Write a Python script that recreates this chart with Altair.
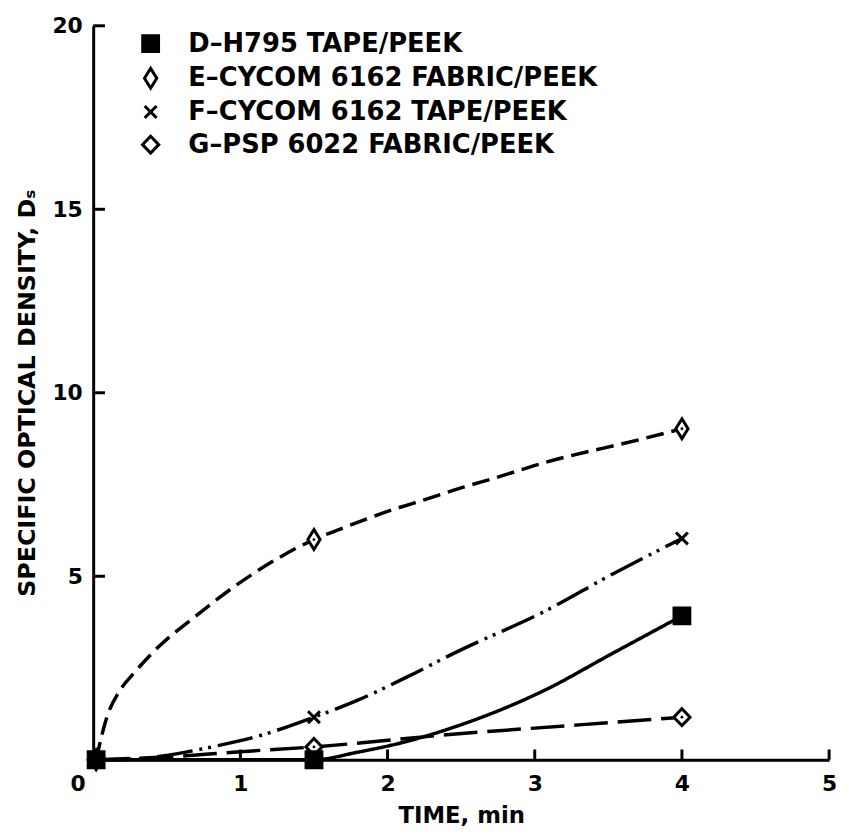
import altair as alt
import pandas as pd

# ---- data ----
series = ["D–H795 TAPE/PEEK", "E–CYCOM 6162 FABRIC/PEEK",
          "F–CYCOM 6162 TAPE/PEEK", "G–PSP 6022 FABRIC/PEEK"]

# measured points (markers)
d_time = [0.02, 1.5, 4.0]
d_ds = [0.0, 0.0, 3.92]
e_time = [0.02, 1.5, 4.0]
e_ds = [0.0, 6.0, 9.02]
f_time = [0.02, 1.5, 4.0]
f_ds = [0.0, 1.16, 6.03]
g_time = [0.02, 1.5, 4.0]
g_ds = [0.0, 0.35, 1.16]

# faired curves
d_curve_t = [0.02, 1.5, 1.79, 2.15, 2.4, 3.07, 3.52, 4.0]
d_curve_v = [0.0, 0.0, 0.2, 0.52, 0.82, 1.9, 2.88, 3.92]
e_curve_t = [0.02, 0.093, 0.18, 0.27, 0.45, 0.68, 0.97, 1.26, 1.5, 1.72, 2.01, 2.28, 2.51, 2.73, 3.07, 3.74, 4.0]
e_curve_v = [0.0, 1.16, 1.88, 2.33, 3.1, 3.86, 4.75, 5.5, 6.0, 6.35, 6.78, 7.12, 7.42, 7.68, 8.1, 8.75, 9.02]
f_curve_t = [0.02, 0.3, 0.5, 0.83, 1.1, 1.5, 1.79, 2.13, 2.46, 3.07, 3.52, 4.0]
f_curve_v = [0.0, 0.02, 0.12, 0.37, 0.62, 1.16, 1.61, 2.25, 2.92, 4.05, 5.04, 6.03]
g_curve_t = [0.02, 0.6, 1.0, 1.5, 2.4, 3.3, 4.0]
g_curve_v = [0.0, 0.1, 0.22, 0.35, 0.68, 0.95, 1.16]

x_ticks = [0, 1, 2, 3, 4, 5]
y_ticks = [5, 10, 15, 20]
x_inner_ticks = [1, 2, 3, 4, 5]
y_inner_ticks = [5, 10, 15, 20]

FONT = "DejaVu Sans"

# ---- tables ----
curve_t = [d_curve_t, e_curve_t, f_curve_t, g_curve_t]
curve_v = [d_curve_v, e_curve_v, f_curve_v, g_curve_v]
dashes = [[1, 0], [18, 8], [36, 7, 3, 6, 3, 7], [34, 10]]

pts = []
# D last so its square sits on top at the origin
for s, ts, vs in zip([series[3], series[2], series[1], series[0]],
                     [g_time, f_time, e_time, d_time],
                     [g_ds, f_ds, e_ds, d_ds]):
    for t, v in zip(ts, vs):
        pts.append({"series": s, "time": t, "ds": v})
pts = pd.DataFrame(pts)
dots = pts[pts["series"].isin([series[1], series[3]]) & (pts["time"] > 0.5)].reset_index(drop=True)

ytk = pd.DataFrame({"v": y_inner_ticks})
xtk = pd.DataFrame({"v": x_inner_ticks})

xscale = alt.Scale(domain=[0, 5], nice=False)
yscale = alt.Scale(domain=[0, 20], nice=False)

xaxis = alt.Axis(values=x_ticks, format="d", grid=False, ticks=False, domainWidth=3, domainColor="black",
                 labelFont=FONT, labelFontWeight="bold", labelFontSize=22, labelColor="black",
                 labelPadding=14, labelFlush=False,
                 labelAlign={"condition": {"test": "datum.value === 0", "value": "right"}, "value": "center"},
                 labelOffset={"condition": {"test": "datum.value === 0", "value": -8}, "value": 0},
                 title="TIME, min", titleFont=FONT, titleFontWeight="bold", titleFontSize=23,
                 titleColor="black", titlePadding=10)
yaxis = alt.Axis(values=y_ticks, format="d", grid=False, ticks=False, domainWidth=3, domainColor="black",
                 labelFont=FONT, labelFontWeight="bold", labelFontSize=22, labelColor="black",
                 labelPadding=11, labelFlush=False,
                 title="SPECIFIC OPTICAL DENSITY, Dₛ", titleFont=FONT, titleFontWeight="bold",
                 titleFontSize=24, titleColor="black", titlePadding=13)

shape_paths = [
    "M-0.8,-0.8L0.8,-0.8L0.8,0.8L-0.8,0.8Z",
    "M0,-1.0L0.62,0L0,1.0L-0.62,0Z",
    "M-0.6,-0.6L0.6,0.6M0.6,-0.6L-0.6,0.6",
    "M0,-0.85L0.82,0L0,0.85L-0.82,0Z",
]
legend = alt.Legend(title=None, orient="none", legendX=45, legendY=5,
                    symbolSize=400, symbolStrokeWidth=3, symbolStrokeColor="black",
                    labelFont=FONT, labelFontWeight="bold", labelFontSize=26, labelColor="black",
                    labelOffset=25, rowPadding=5, labelLimit=600)

line_layers = []
for s, ts, vs, dash in zip(series, curve_t, curve_v, dashes):
    df = pd.DataFrame({"time": ts, "ds": vs})
    line_layers.append(
        alt.Chart(df).mark_line(color="black", strokeWidth=3.5, interpolate="monotone",
                                strokeDash=dash).encode(
            x=alt.X("time:Q", scale=xscale, axis=xaxis),
            y=alt.Y("ds:Q", scale=yscale, axis=yaxis),
        )
    )

points = alt.Chart(pts).mark_point(filled=True, strokeWidth=3, size=400, opacity=1).encode(
    x=alt.X("time:Q", scale=xscale),
    y=alt.Y("ds:Q", scale=yscale),
    shape=alt.Shape("series:N", scale=alt.Scale(domain=series, range=shape_paths), legend=legend),
    fill=alt.Fill("series:N", scale=alt.Scale(domain=series, range=["black", "white", "white", "white"]),
                  legend=legend),
    stroke=alt.Stroke("series:N", scale=alt.Scale(domain=series, range=["black", "black", "black", "black"]),
                      legend=legend),
)

centre_dots = alt.Chart(dots).mark_circle(color="black", size=8, opacity=1).encode(
    x=alt.X("time:Q", scale=xscale),
    y=alt.Y("ds:Q", scale=yscale),
)

ytick_rules = alt.Chart(ytk).mark_rule(color="black", strokeWidth=3).encode(
    y=alt.Y("v:Q", scale=yscale),
    x=alt.datum(0, scale=xscale),
    x2=alt.datum(0.08),
)
xtick_rules = alt.Chart(xtk).mark_rule(color="black", strokeWidth=3).encode(
    x=alt.X("v:Q", scale=xscale),
    y=alt.datum(0, scale=yscale),
    y2=alt.datum(0.28),
)

chart = alt.layer(*line_layers, ytick_rules, xtick_rules, points, centre_dots).properties(
    width=743, height=741,
    padding={"left": 86, "top": 14, "right": 12, "bottom": 70},
    autosize=alt.AutoSizeParams(type="none"),
    background="white",
).configure_view(stroke=None)

chart.save("out.html", embed_options={"renderer": "svg", "actions": False})
